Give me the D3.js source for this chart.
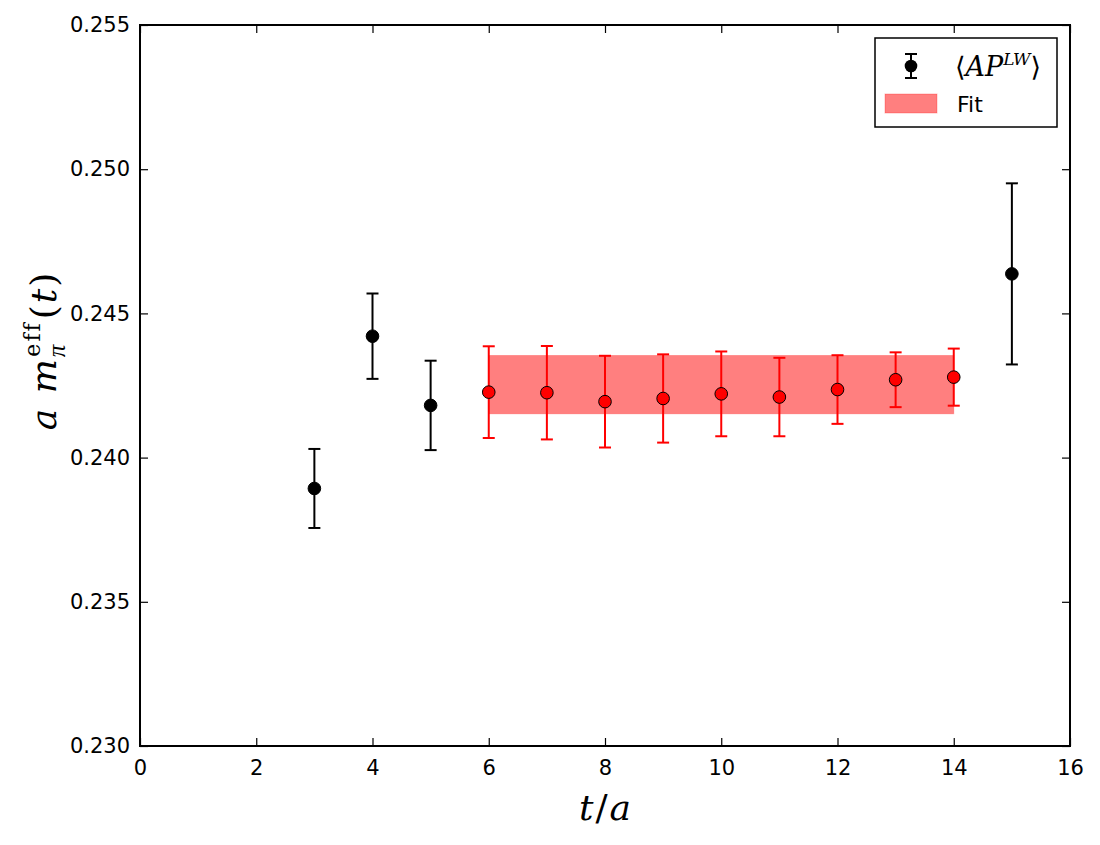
<!DOCTYPE html>
<html>
<head>
<meta charset="utf-8">
<script src="https://cdn.jsdelivr.net/npm/d3@7"></script>
<style>
  body { margin: 0; background: #fff; }
  svg { display: block; }
  .tick text { font-family: "DejaVu Sans", sans-serif; }
</style>
</head>
<body>
<div id="chart"></div>
<script>
// data
const blackT = [3, 4, 5, 15];
const blackVal = [0.23893, 0.24421, 0.24181, 0.24637];
const blackErr = [0.00137, 0.00148, 0.00155, 0.00314];

const redT = [6, 7, 8, 9, 10, 11, 12, 13, 14];
const redVal = [0.24227, 0.24225, 0.24194, 0.24205, 0.24221, 0.24210, 0.24236, 0.24270, 0.24279];
const redErr = [0.00159, 0.00162, 0.00159, 0.00153, 0.00147, 0.00136, 0.00119, 0.00095, 0.00099];

const fitRange = [6, 14];
const fitBand = [0.24152, 0.24354];

const xTicks = [0, 2, 4, 6, 8, 10, 12, 14, 16];
const yTicks = [0.230, 0.235, 0.240, 0.245, 0.250, 0.255];

const W = 1100, H = 845;
const margin = { top: 25, right: 30, bottom: 99, left: 140 };
const iw = W - margin.left - margin.right;
const ih = H - margin.top - margin.bottom;

const svg = d3.select("#chart").append("svg")
    .attr("width", W)
    .attr("height", H);

const g = svg.append("g")
    .attr("transform", "translate(" + margin.left + "," + margin.top + ")");

const x = d3.scaleLinear().domain([0, 16]).range([0, iw]);
const y = d3.scaleLinear().domain([0.230, 0.255]).range([ih, 0]);

// fit band
g.append("rect")
    .attr("x", x(fitRange[0]))
    .attr("y", y(fitBand[1]))
    .attr("width", x(fitRange[1]) - x(fitRange[0]))
    .attr("height", y(fitBand[0]) - y(fitBand[1]))
    .attr("fill", "rgba(255,0,0,0.5)")
    .attr("stroke", "rgba(255,0,0,0.25)")
    .attr("stroke-width", 1);

function drawErrors(ts, vals, errs, color, fill) {
    const pts = ts.map((t, i) => ({ t: t, v: vals[i], e: errs[i] }));
    const grp = g.append("g");
    const cap = 6;
    grp.selectAll(".bar").data(pts).join("line")
        .attr("x1", d => x(d.t)).attr("x2", d => x(d.t))
        .attr("y1", d => y(d.v - d.e)).attr("y2", d => y(d.v + d.e))
        .attr("stroke", color).attr("stroke-width", 2);
    grp.selectAll(".capTop").data(pts).join("line")
        .attr("x1", d => x(d.t) - cap).attr("x2", d => x(d.t) + cap)
        .attr("y1", d => y(d.v + d.e)).attr("y2", d => y(d.v + d.e))
        .attr("stroke", color).attr("stroke-width", 2);
    grp.selectAll(".capBot").data(pts).join("line")
        .attr("x1", d => x(d.t) - cap).attr("x2", d => x(d.t) + cap)
        .attr("y1", d => y(d.v - d.e)).attr("y2", d => y(d.v - d.e))
        .attr("stroke", color).attr("stroke-width", 2);
    grp.selectAll("circle").data(pts).join("circle")
        .attr("cx", d => x(d.t)).attr("cy", d => y(d.v))
        .attr("r", 6.3)
        .attr("fill", fill)
        .attr("stroke", "#000").attr("stroke-width", 1);
}

drawErrors(blackT, blackVal, blackErr, "#000", "#000");
drawErrors(redT, redVal, redErr, "#ff0000", "#ff0000");

// axes, ticks pointing inward on all four sides
const tickLen = 8;
const fmt = d3.format(".3f");
const xb = g.append("g").attr("transform", "translate(0," + ih + ")")
    .call(d3.axisBottom(x).tickValues(xTicks).tickSize(-tickLen).tickPadding(14).tickFormat(d3.format("d")));
const xt = g.append("g")
    .call(d3.axisTop(x).tickValues(xTicks).tickSize(-tickLen).tickFormat(""));
const yl = g.append("g")
    .call(d3.axisLeft(y).tickValues(yTicks).tickSize(-tickLen).tickPadding(10).tickFormat(fmt));
const yr = g.append("g").attr("transform", "translate(" + iw + ",0)")
    .call(d3.axisRight(y).tickValues(yTicks).tickSize(-tickLen).tickFormat(""));

[xb, xt, yl, yr].forEach(a => {
    a.select(".domain").remove();
    a.selectAll(".tick line").attr("stroke", "#000").attr("stroke-width", 1.2);
    a.selectAll(".tick text").attr("font-size", 21).attr("fill", "#000");
});

// frame
g.append("rect")
    .attr("x", 0).attr("y", 0)
    .attr("width", iw).attr("height", ih)
    .attr("fill", "none")
    .attr("stroke", "#000").attr("stroke-width", 2);

// axis labels
const serif = "'DejaVu Serif', 'Liberation Serif', serif";
const lib = "'Liberation Serif', serif";
const xl = svg.append("text")
    .attr("x", margin.left + iw / 2)
    .attr("y", 820)
    .attr("text-anchor", "middle")
    .attr("font-family", serif)
    .attr("font-size", 36)
    .attr("font-style", "italic");
xl.append("tspan").text("t");
xl.append("tspan").attr("font-style", "normal").attr("dx", 2).text("/");
xl.append("tspan").attr("dx", 2).text("a");

const ylab = svg.append("text")
    .attr("transform", "translate(56," + (margin.top + ih / 2 - 35) + ") rotate(-90)")
    .attr("text-anchor", "middle")
    .attr("font-family", serif)
    .attr("font-size", 36)
    .attr("font-style", "italic")
    .attr("letter-spacing", 2);
ylab.append("tspan").text("a m");
ylab.append("tspan").attr("font-family", lib).attr("font-size", 25).attr("dy", 9).text("π");
ylab.append("tspan").attr("font-size", 22).attr("font-style", "normal").attr("dx", -14).attr("dy", -25).text("eff");
ylab.append("tspan").attr("font-style", "normal").attr("dx", 2).attr("dy", 16).text("(");
ylab.append("tspan").text("t");
ylab.append("tspan").attr("font-style", "normal").text(")");

// legend
const lg = svg.append("g");
lg.append("rect")
    .attr("x", 875).attr("y", 38)
    .attr("width", 182).attr("height", 89)
    .attr("fill", "#fff")
    .attr("stroke", "#000").attr("stroke-width", 1.5);

const lx = 911, ly = 66;
lg.append("line").attr("x1", lx).attr("x2", lx).attr("y1", ly - 12).attr("y2", ly + 12)
    .attr("stroke", "#000").attr("stroke-width", 2);
[ly - 12, ly + 12].forEach(cy => {
    lg.append("line").attr("x1", lx - 6).attr("x2", lx + 6).attr("y1", cy).attr("y2", cy)
        .attr("stroke", "#000").attr("stroke-width", 2);
});
lg.append("circle").attr("cx", lx).attr("cy", ly).attr("r", 6.3).attr("fill", "#000");

const lt = lg.append("text")
    .attr("x", 955).attr("y", 76)
    .attr("font-family", serif)
    .attr("font-size", 27);
lt.append("tspan").text("\u27E8");
lt.append("tspan").attr("font-style", "italic").text("AP");
lt.append("tspan").attr("font-style", "italic").attr("font-size", 17).attr("dy", -11).text("LW");
lt.append("tspan").attr("dy", 11).text("\u27E9");

lg.append("rect")
    .attr("x", 885).attr("y", 94)
    .attr("width", 52).attr("height", 19)
    .attr("fill", "rgba(255,0,0,0.5)")
    .attr("stroke", "rgba(255,0,0,0.25)");
lg.append("text")
    .attr("x", 957).attr("y", 112)
    .attr("font-family", "'DejaVu Sans', sans-serif")
    .attr("font-size", 22)
    .text("Fit");
</script>
</body>
</html>
